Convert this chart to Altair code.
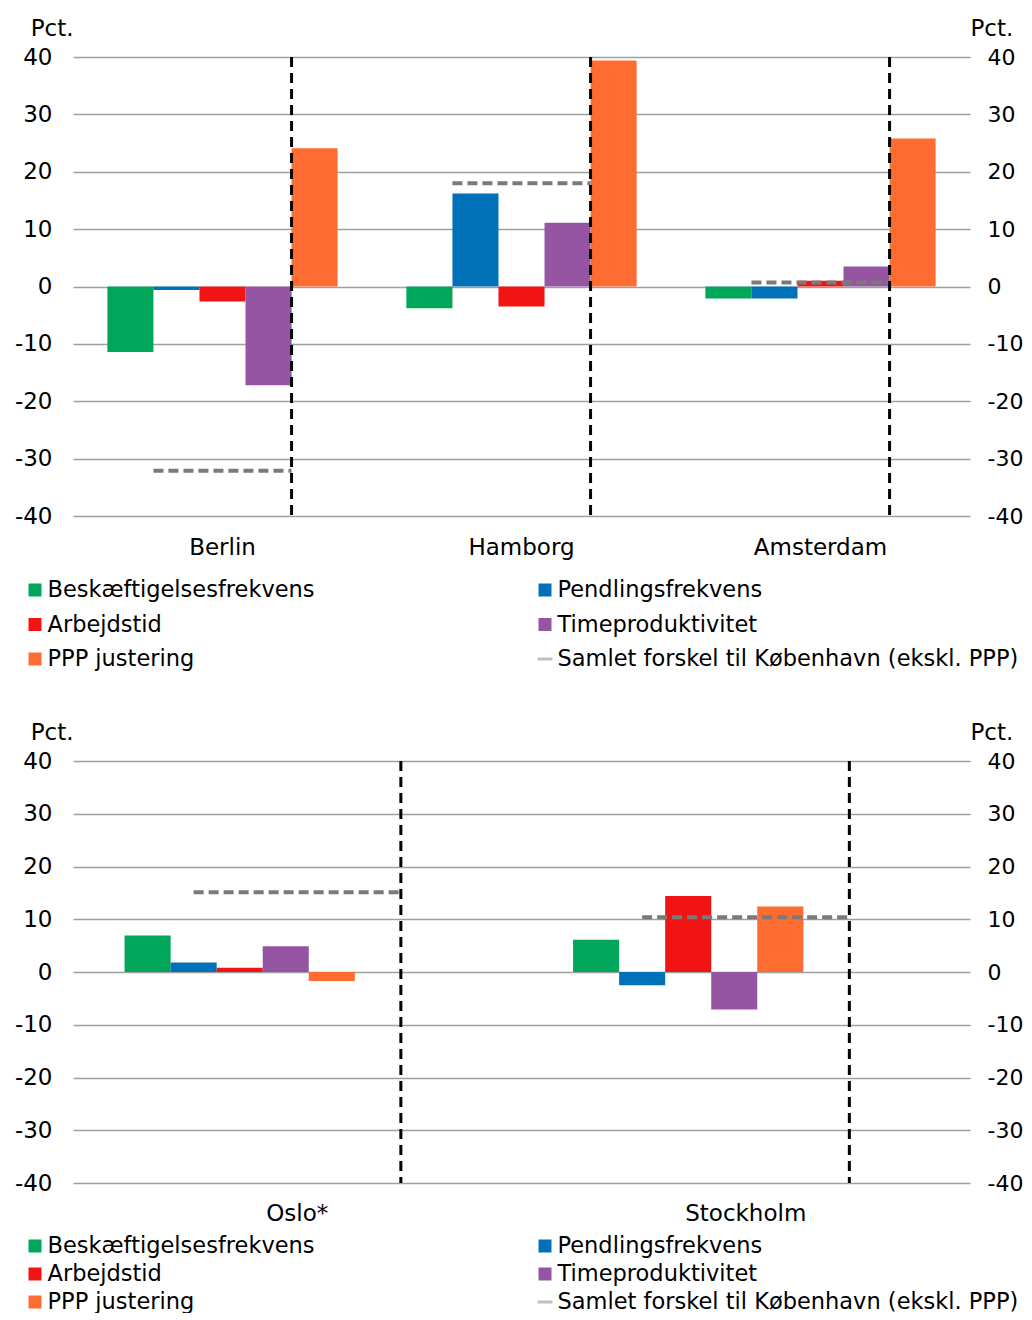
import altair as alt
import pandas as pd

FONT = "DejaVu Sans"
FS = 23
RFS = 22
LFS = 22.5

series = ["Beskæftigelsesfrekvens", "Pendlingsfrekvens", "Arbejdstid",
          "Timeproduktivitet", "PPP justering"]
samlet_name = "Samlet forskel til København (ekskl. PPP)"
colors = ["#00A65A", "#0070B8", "#F01414", "#9655A2", "#FF6C31"]

# Panel 1
cities1 = ["Berlin", "Hamborg", "Amsterdam"]
beskaeft1 = [-11.4, -3.8, -2.1]
pendling1 = [-0.6, 16.2, -2.1]
arbejd1 = [-2.6, -3.5, 1.0]
timeprod1 = [-17.2, 11.1, 3.5]
ppp1 = [24.1, 39.4, 25.8]
samlet1 = [-32.1, 18.0, 0.7]

# Panel 2
cities2 = ["Oslo*", "Stockholm"]
beskaeft2 = [6.9, 6.1]
pendling2 = [1.8, -2.5]
arbejd2 = [0.8, 14.4]
timeprod2 = [4.9, -7.1]
ppp2 = [-1.7, 12.4]
samlet2 = [15.1, 10.4]

yticks = [-40, -30, -20, -10, 0, 10, 20, 30, 40]


def panel(cities, vals, samlet, width, height, xlabel_pad):
    rows = []
    for s, v in zip(series, vals):
        for c, x in zip(cities, v):
            rows.append({"city": c, "series": s, "value": x})
    bars_df = pd.DataFrame(rows)
    sam_df = pd.DataFrame({"city": cities, "samlet": samlet})

    xscale = alt.Scale(domain=cities, paddingInner=0.23, paddingOuter=0.115)
    xaxis = alt.Axis(title=None, labelAngle=0, domain=False, ticks=False,
                     labelPadding=xlabel_pad, labelFontSize=FS, labelColor="black",
                     labelFont=FONT, grid=False)
    yscale = alt.Scale(domain=[-40, 40], nice=False, zero=False)
    common = dict(title="Pct.", values=yticks, domain=False, ticks=False,
                  labelColor="black", labelFont=FONT,
                  labelExpr="'' + datum.value",
                  titleAngle=0, titleBaseline="alphabetic", titleX=0, titleY=-22,
                  titleFontSize=FS, titleFontWeight="normal", titleFont=FONT,
                  titleColor="black")
    yleft = alt.Axis(grid=True, gridColor="#a0a0a0", gridWidth=1.4,
                     labelPadding=21, labelFontSize=FS, titleAlign="right",
                     **common)
    yright = alt.Axis(orient="right", grid=False, labelPadding=17,
                      labelFontSize=RFS, titleAlign="left", **common)

    bars = alt.Chart(bars_df).mark_bar().encode(
        x=alt.X("city:N", scale=xscale, axis=xaxis, sort=cities),
        xOffset=alt.XOffset("series:N", sort=series,
                            scale=alt.Scale(domain=series, paddingInner=0,
                                            paddingOuter=0)),
        y=alt.Y("value:Q", scale=yscale, axis=yleft),
        color=alt.Color("series:N", scale=alt.Scale(domain=series, range=colors),
                        legend=None),
    )
    sam = alt.Chart(sam_df).mark_rule(color="#7a7a7a", strokeWidth=4,
                                      strokeDash=[10, 5]).encode(
        x=alt.X("city:N", bandPosition=0.2, scale=xscale, axis=xaxis, sort=cities),
        x2=alt.X2("city", bandPosition=0.8),
        y=alt.Y("samlet:Q", scale=yscale, axis=yright),
    )
    vline = alt.Chart(sam_df).mark_rule(color="black", strokeWidth=3,
                                        strokeDash=[10, 6]).encode(
        x=alt.X("city:N", bandPosition=0.8, scale=xscale, axis=xaxis, sort=cities),
    )
    return alt.layer(bars, sam, vline).resolve_axis(y="independent").properties(
        width=width, height=height)


def legend(row_step):
    names = series + [samlet_name]
    leg_df = pd.DataFrame({
        "name": names,
        "col": [i % 2 for i in range(len(names))],
        "row": [i // 2 for i in range(len(names))],
        "kind": ["bar"] * len(series) + ["line"],
    })
    base = alt.Chart(leg_df).encode(
        x=alt.X("col:Q", scale=alt.Scale(domain=[0, 1], range=[-38, 472]), axis=None),
        y=alt.Y("row:O", scale=alt.Scale(type="point", padding=0), axis=None),
    )
    squares = base.transform_filter(alt.datum.kind == "bar").mark_square(
        size=169, opacity=1).encode(
        color=alt.Color("name:N", scale=alt.Scale(domain=series, range=colors),
                        legend=None))
    line = base.transform_filter(alt.datum.kind == "line").mark_point(
        shape="stroke", size=225, strokeWidth=3, color="#c0c0c0", opacity=1)
    text = base.mark_text(align="left", baseline="middle", dx=12.5, fontSize=LFS,
                          font=FONT, color="black").encode(text="name:N")
    return alt.layer(squares, line, text).properties(width=897, height=2 * row_step)


top = alt.vconcat(panel(cities1, [beskaeft1, pendling1, arbejd1, timeprod1, ppp1],
                        samlet1, 897, 459, 20),
                  legend(34.5), spacing=20)
bottom = alt.vconcat(panel(cities2, [beskaeft2, pendling2, arbejd2, timeprod2, ppp2],
                           samlet2, 897, 422, 19),
                     legend(28), spacing=10)

chart = alt.vconcat(top, bottom, spacing=50).properties(
    padding={"left": 6, "top": 9, "right": 0, "bottom": -1}
).configure(font=FONT).configure_view(strokeWidth=0, stroke="transparent")

chart.save("out.html", embed_options={"renderer": "svg", "actions": False})
